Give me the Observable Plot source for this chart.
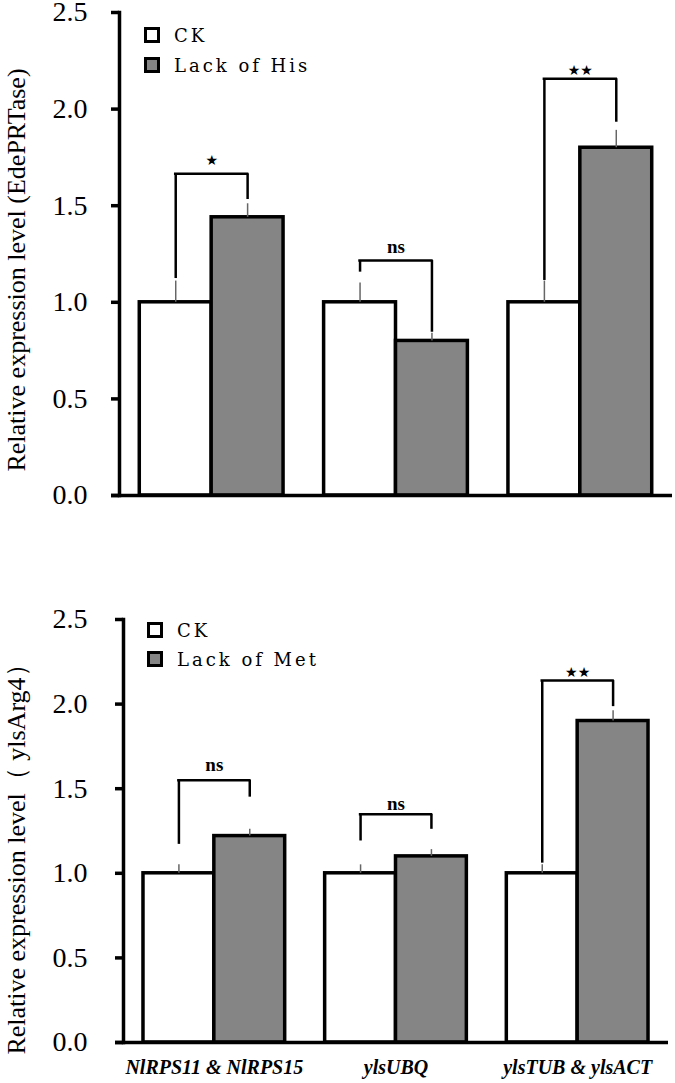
<!DOCTYPE html>
<html><head><meta charset="utf-8">
<script src="https://cdn.jsdelivr.net/npm/d3@7"></script>
<script src="https://cdn.jsdelivr.net/npm/@observablehq/plot@0.6"></script>
<style>
body{margin:0;background:#fff;}
#wrap{position:relative;width:675px;height:1083px;background:#fff;}
.panel{position:absolute;left:0;overflow:visible;}
.item{position:absolute;display:flex;align-items:center;white-space:nowrap;height:16px;
  font-family:"DejaVu Serif",serif;font-size:18px;letter-spacing:3px;color:#000;}
.sw{width:10px;height:10px;border:3px solid #000;margin-right:14px;}
</style></head>
<body><div id="wrap"></div>
<script>
// ---- data ----
const groups = ["NlRPS11 & NlRPS15", "ylsUBQ", "ylsTUB & ylsACT"];
const yTicks = [0, 0.5, 1.0, 1.5, 2.0, 2.5];

// Panel A: Lack of His (EdePRTase)
const hisCK = [1.0, 1.0, 1.0];
const hisCKErr = [0.11, 0.10, 0.11];
const hisLack = [1.44, 0.80, 1.80];
const hisLackErr = [0.07, 0.04, 0.09];
const hisSig = ["★", "ns", "★★"];
const hisBracketTop = [1.665, 1.216, 2.157];
const hisLegLeft = [1.123, 1.156, 1.113];
const hisLegRight = [1.532, 0.845, 1.932];
const hisSigAt = [1.734, 1.285, 2.20];

// Panel B: Lack of Met (ylsArg4)
const metCK = [1.0, 1.0, 1.0];
const metCKErr = [0.05, 0.05, 0.05];
const metLack = [1.22, 1.10, 1.90];
const metLackErr = [0.04, 0.04, 0.06];
const metSig = ["ns", "ns", "★★"];
const metBracketTop = [1.55, 1.349, 2.139];
const metLegLeft = [1.171, 1.191, 1.06];
const metLegRight = [1.45, 1.26, 1.985];
const metSigAt = [1.639, 1.412, 2.186];

const W = 675;
const GREY = "#858585";

function panel(o) {
  const xOpts = {type: "band", domain: groups, paddingInner: 0.22, paddingOuter: 0.11,
    round: false, range: [o.marginLeft, W - o.marginRight]};
  const bw = Plot.scale({x: xOpts}).bandwidth;
  const q = bw / 4;
  const ckRows = groups.map((g, i) => ({group: g, value: o.ck[i], err: o.ckErr[i]}));
  const lackRows = groups.map((g, i) => ({group: g, value: o.lack[i], err: o.lackErr[i]}));
  const br = groups.map((g, i) => ({group: g, top: o.top[i], legL: o.legL[i], legR: o.legR[i], sig: o.sig[i], at: o.at[i]}));
  const marks = [
    Plot.barY(ckRows, {x: "group", y: "value", fill: "white", stroke: "black", strokeWidth: 3.5, insetRight: bw / 2}),
    Plot.barY(lackRows, {x: "group", y: "value", fill: GREY, stroke: "black", strokeWidth: 3.5, insetLeft: bw / 2}),
    Plot.ruleX(ckRows, {x: "group", y1: "value", y2: d => d.value + d.err, dx: -q, stroke: "#666", strokeWidth: 1.5}),
    Plot.ruleX(lackRows, {x: "group", y1: "value", y2: d => d.value + d.err, dx: q, stroke: "#666", strokeWidth: 1.5}),
    Plot.tickY(br, {x: "group", y: "top", insetLeft: q - 1.25, insetRight: q - 1.25, stroke: "black", strokeWidth: 2.5}),
    Plot.ruleX(br, {x: "group", y1: "legL", y2: "top", dx: -q, stroke: "black", strokeWidth: 2.5}),
    Plot.ruleX(br, {x: "group", y1: "legR", y2: "top", dx: q, stroke: "black", strokeWidth: 2.5}),
    Plot.text(br.filter(d => d.sig === "ns"), {x: "group", y: "at", text: "sig", fontSize: 19, fontWeight: "bold", fontFamily: "Liberation Serif"}),
    Plot.text(br.filter(d => d.sig !== "ns"), {x: "group", y: "at", text: "sig", fontSize: 14, fontFamily: "DejaVu Sans"}),
    Plot.ruleY([0], {insetLeft: -8, stroke: "black", strokeWidth: 3.5}),
    Plot.frame({anchor: "left", stroke: "black", strokeWidth: 3.5}),
    Plot.axisY(yTicks, {tickSize: 8, tickPadding: o.tickPadding, strokeWidth: 3.5, tickFormat: d3.format(".1f"), fontSize: 28, fontFamily: "Liberation Serif", label: null})
  ];
  if (o.showX) {
    marks.push(Plot.axisX({tickSize: 0, tickPadding: 17, fontSize: 20, fontWeight: "bold", fontStyle: "italic", fontFamily: "Liberation Serif", label: null}));
  }
  const svg = Plot.plot({
    width: W, height: o.height,
    marginTop: o.marginTop, marginBottom: o.marginBottom, marginLeft: o.marginLeft, marginRight: o.marginRight,
    style: {fontFamily: "Liberation Serif", fontSize: "28px", background: "white", color: "black", overflow: "visible"},
    x: {...xOpts, axis: o.showX ? undefined : null, label: null},
    y: {domain: [0, 2.5], label: null},
    marks
  });
  d3.select(svg).append("text")
    .attr("transform", `translate(25,${o.titleY}) rotate(-90)`)
    .attr("text-anchor", "middle")
    .attr("fill", "black")
    .style("font-family", "Liberation Serif")
    .style("font-size", "26px")
    .text(o.title);
  svg.classList.add("panel");
  svg.style.top = o.top0 + "px";
  return svg;
}

const wrap = document.getElementById("wrap");
wrap.appendChild(panel({
  ck: hisCK, ckErr: hisCKErr, lack: hisLack, lackErr: hisLackErr, sig: hisSig,
  top: hisBracketTop, legL: hisLegLeft, legR: hisLegRight, at: hisSigAt,
  height: 520, marginTop: 12, marginBottom: 25, marginLeft: 119, marginRight: 3,
  tickPadding: 24, showX: false, title: "Relative expression level (EdePRTase)", titleY: 270, top0: 0
}));
wrap.appendChild(panel({
  ck: metCK, ckErr: metCKErr, lack: metLack, lackErr: metLackErr, sig: metSig,
  top: metBracketTop, legL: metLegLeft, legR: metLegRight, at: metSigAt,
  height: 563, marginTop: 99, marginBottom: 41, marginLeft: 123, marginRight: 7,
  tickPadding: 28, showX: true, title: "Relative expression level（ ylsArg4）", titleY: 333, top0: 520
}));

// legends
const legendA = [{label: "CK", fill: "white", left: 144, top: 27}, {label: "Lack of His", fill: GREY, left: 144, top: 57}];
const legendB = [{label: "CK", fill: "white", left: 147, top: 622}, {label: "Lack of Met", fill: GREY, left: 147, top: 651}];
for (const it of [...legendA, ...legendB]) {
  const d = document.createElement("div");
  d.className = "item";
  d.style.left = it.left + "px";
  d.style.top = it.top + "px";
  const sw = document.createElement("span");
  sw.className = "sw";
  sw.style.background = it.fill;
  d.appendChild(sw);
  d.appendChild(document.createTextNode(it.label));
  wrap.appendChild(d);
}
</script>
</body></html>
